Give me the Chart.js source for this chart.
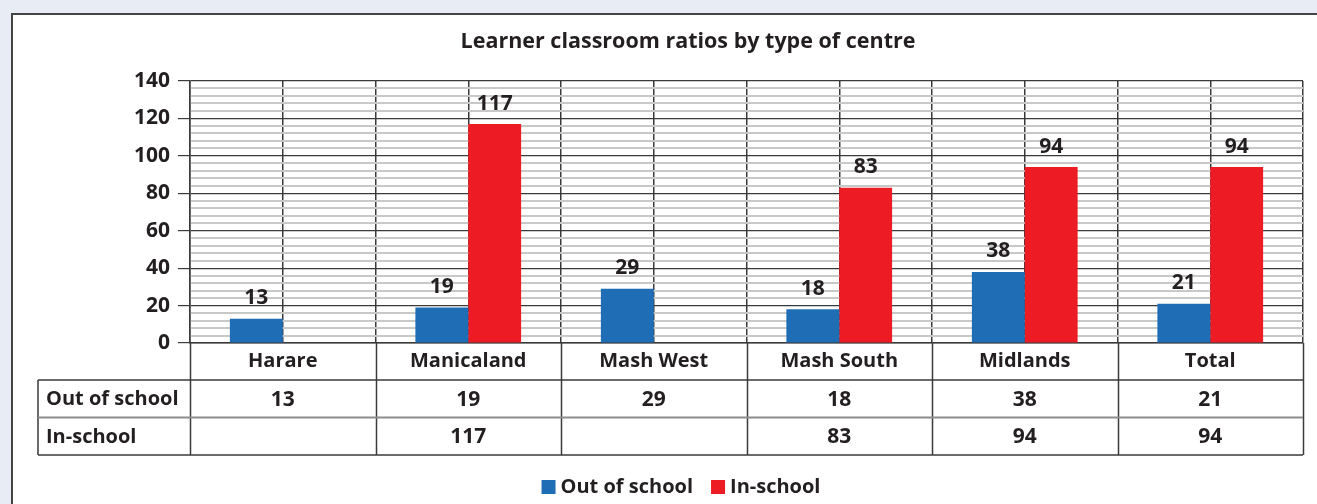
<!DOCTYPE html>
<html>
<head>
<meta charset="utf-8">
<script src="https://cdn.jsdelivr.net/npm/chart.js@4.4.0/dist/chart.umd.min.js"></script>
<style>
    html, body { margin: 0; padding: 0; background: #e8ecf5; }
    #caixa { position: relative; width: 1317px; height: 504px; }
</style>
</head>
<body>
<div id="caixa"><canvas id="grafico" width="1317" height="504"></canvas></div>
<script>
// dados
const centros = ['Harare', 'Manicaland', 'Mash West', 'Mash South', 'Midlands', 'Total'];
const foraDaEscola = [13, 19, 29, 18, 38, 21];
const naEscola = [null, 117, null, 83, 94, 94];
const nomesSeries = ['Out of school', 'In-school'];
const coresSeries = ['#1f6db4', '#ed1c24'];
const titulo = 'Learner classroom ratios by type of centre';

const FONTE = '"Open Sans", sans-serif';
const FONTE_TEXTO = 'bold 20px ' + FONTE;
const FONTE_NUM = 'bold 21px ' + FONTE;
const COR_TEXTO = '#231f20';
const COR_LINHA = '#3a3a3a';

// fundo e moldura do painel
const pluginPainel = {
    id: 'painel',
    beforeDraw(chart) {
        const ctx = chart.ctx;
        ctx.save();
        ctx.fillStyle = '#e8ecf5';
        ctx.fillRect(0, 0, chart.width, chart.height);
        ctx.fillStyle = '#ffffff';
        ctx.fillRect(12, 14, chart.width + 20, chart.height + 20);
        ctx.strokeStyle = '#444';
        ctx.lineWidth = 2;
        ctx.strokeRect(12, 14, chart.width + 20, chart.height + 20);
        ctx.fillStyle = COR_TEXTO;
        ctx.font = 'bold 21.5px ' + FONTE;
        ctx.textAlign = 'center';
        ctx.textBaseline = 'middle';
        ctx.fillText(titulo, 688, 42);
        ctx.restore();
    }
};

// valores em cima das barras
const pluginRotulos = {
    id: 'rotulos',
    afterDatasetsDraw(chart) {
        const ctx = chart.ctx;
        ctx.save();
        ctx.fillStyle = COR_TEXTO;
        ctx.font = FONTE_NUM;
        ctx.textAlign = 'center';
        ctx.textBaseline = 'bottom';
        chart.data.datasets.forEach((ds, i) => {
            chart.getDatasetMeta(i).data.forEach((barra, j) => {
                if (ds.data[j] === null) return;
                ctx.fillText(ds.data[j], barra.x, barra.y - 10);
            });
        });
        ctx.restore();
    }
};

// tabela de dados e legenda embaixo
const pluginTabela = {
    id: 'tabela',
    afterDraw(chart) {
        const ctx = chart.ctx;
        const area = chart.chartArea;
        const x = chart.scales.x;
        const n = centros.length;
        const largura = (area.right - area.left) / n;
        const altLinha = 37.5;
        const topo = area.bottom + 37;
        const base = topo + altLinha * 2;
        const esquerda = 38;

        ctx.save();
        ctx.strokeStyle = COR_LINHA;
        ctx.lineWidth = 1.5;
        ctx.beginPath();
        for (let i = 0; i <= n; i++) {
            const px = Math.round(area.left + i * largura) + 0.5;
            ctx.moveTo(px, area.bottom);
            ctx.lineTo(px, base);
        }
        ctx.moveTo(esquerda, topo);
        ctx.lineTo(area.right, topo);
        ctx.moveTo(esquerda, base);
        ctx.lineTo(area.right, base);
        ctx.moveTo(esquerda, topo);
        ctx.lineTo(esquerda, base);
        ctx.stroke();

        ctx.strokeStyle = '#8c8c8c';
        ctx.lineWidth = 2;
        ctx.beginPath();
        ctx.moveTo(esquerda, topo + altLinha);
        ctx.lineTo(area.right, topo + altLinha);
        ctx.stroke();

        ctx.fillStyle = COR_TEXTO;
        ctx.textBaseline = 'middle';
        [foraDaEscola, naEscola].forEach((serie, r) => {
            const cy = topo + altLinha * r + altLinha / 2 + 1;
            ctx.font = FONTE_TEXTO;
            ctx.textAlign = 'left';
            ctx.fillText(nomesSeries[r], esquerda + 8, cy);
            ctx.font = FONTE_NUM;
            ctx.textAlign = 'center';
            serie.forEach((v, j) => {
                if (v === null) return;
                ctx.fillText(v, x.getPixelForValue(j), cy);
            });
        });

        // legenda
        ctx.font = FONTE_TEXTO;
        const quadrado = 14;
        const larguras = nomesSeries.map(t => ctx.measureText(t).width);
        const total = quadrado * 2 + 5 * 2 + larguras[0] + larguras[1] + 18;
        let lx = 681 - total / 2;
        const ly = 487;
        ctx.textAlign = 'left';
        nomesSeries.forEach((nome, i) => {
            ctx.fillStyle = coresSeries[i];
            ctx.fillRect(lx, ly - quadrado / 2, quadrado, quadrado);
            lx += quadrado + 5;
            ctx.fillStyle = COR_TEXTO;
            ctx.fillText(nome, lx, ly);
            lx += larguras[i] + 18;
        });
        ctx.restore();
    }
};

new Chart(document.getElementById('grafico'), {
    type: 'bar',
    data: {
        labels: centros,
        datasets: [
            { label: nomesSeries[0], data: foraDaEscola, backgroundColor: coresSeries[0] },
            { label: nomesSeries[1], data: naEscola, backgroundColor: coresSeries[1] }
        ]
    },
    options: {
        responsive: false,
        animation: false,
        layout: { padding: { top: 81, right: 14, left: 0, bottom: 0 } },
        datasets: { bar: { barPercentage: 1, categoryPercentage: 0.57 } },
        plugins: {
            legend: { display: false },
            title: { display: false },
            tooltip: { enabled: false }
        },
        scales: {
            x: {
                grid: { color: COR_LINHA, lineWidth: 1.5, drawTicks: false },
                border: { color: COR_LINHA, width: 1.5 },
                ticks: {
                    padding: 6,
                    color: COR_TEXTO,
                    font: { family: FONTE, size: 20, weight: 'bold' }
                },
                afterFit(escala) { escala.height = 161; }
            },
            x2: {
                type: 'category',
                position: 'bottom',
                offset: true,
                grid: { offset: false, color: COR_LINHA, lineWidth: 1.5, drawTicks: false },
                border: { display: false },
                ticks: { display: false },
                afterFit(escala) { escala.height = 0; }
            },
            y: {
                min: 0,
                max: 140,
                border: { color: COR_LINHA, width: 1.5 },
                grid: {
                    color: c => c.tick.value % 20 === 0 ? COR_LINHA : '#c8c8c8',
                    lineWidth: c => c.tick.value % 20 === 0 ? 1.2 : 2,
                    tickColor: c => c.tick.value % 20 === 0 ? COR_LINHA : 'rgba(0,0,0,0)',
                    tickLength: 12
                },
                ticks: {
                    stepSize: 4,
                    autoSkip: false,
                    padding: 8,
                    color: COR_TEXTO,
                    font: { family: FONTE, size: 21, weight: 'bold' },
                    callback: v => v % 20 === 0 ? v : ''
                },
                afterFit(escala) { escala.width = 190; }
            }
        }
    },
    plugins: [pluginPainel, pluginRotulos, pluginTabela]
});
</script>
</body>
</html>
